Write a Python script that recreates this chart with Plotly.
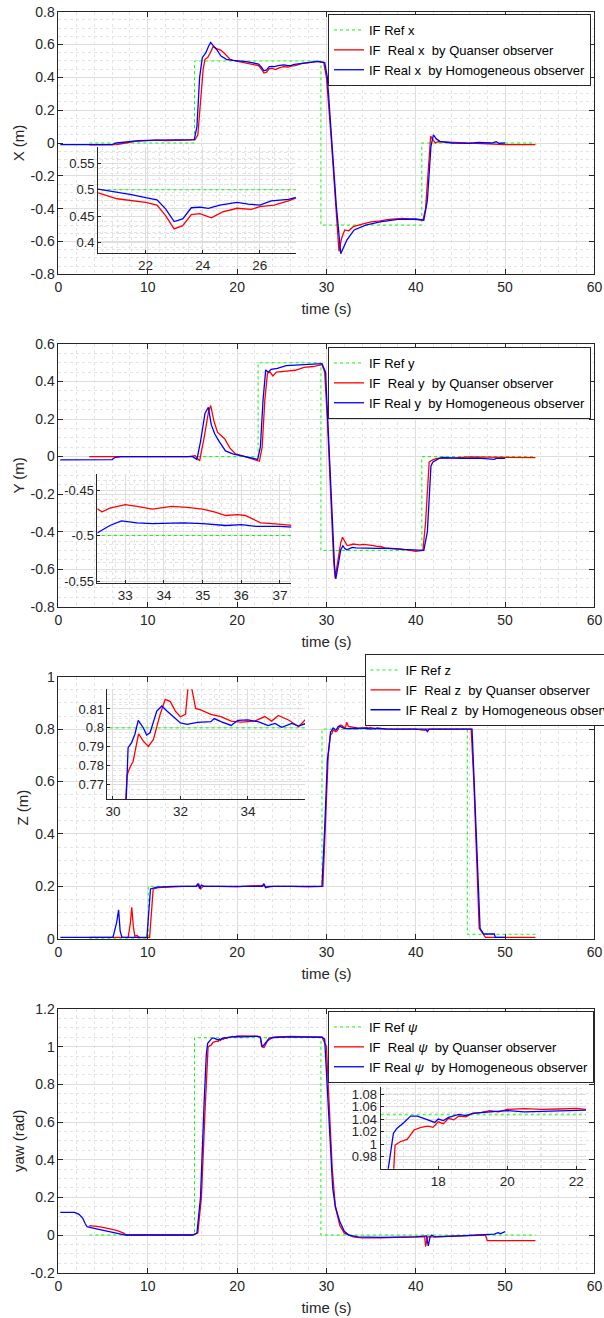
import plotly.graph_objects as go

# ------------------------------------------------------------------ data
# Panel 1 : X
t_ref_x = [3.45, 15.23, 29.38, 40.68, 53.4]
ref_x = [0, 0.5, -0.5, 0, 0]
t_xq = [3.45, 5.0, 6.5, 7.5, 8.5, 10, 11, 12, 13, 14.5, 15.3, 15.6, 15.9, 16.2, 16.4, 16.7, 17.0, 17.3,
        17.7, 18.2, 18.6, 19.2, 19.8, 20.34, 21, 21.5, 22, 22.4, 22.7, 23, 23.3, 23.6, 23.9, 24.3, 24.7,
        25.2, 25.7, 26, 26.5, 27, 27.3, 28, 29, 29.7, 30.0, 30.5, 31.0, 31.4, 31.7, 32.05, 32.5, 33.0,
        34, 35, 36, 37, 38.5, 40, 40.8, 41.1, 41.4, 41.67, 41.9, 42.2, 42.5, 43.5, 45, 46.5, 48, 50, 53.4]
x_q = [-0.012, -0.012, -0.01, 0.0, 0.01, 0.015, 0.018, 0.015, 0.018, 0.018, 0.02, 0.05, 0.25, 0.45, 0.51,
       0.52, 0.55, 0.587, 0.575, 0.565, 0.545, 0.51, 0.5, 0.494, 0.483, 0.479, 0.476, 0.471, 0.451, 0.426,
       0.432, 0.453, 0.455, 0.447, 0.458, 0.465, 0.463, 0.468, 0.471, 0.479, 0.485, 0.49, 0.497, 0.49,
       0.4, 0.05, -0.36, -0.66, -0.58, -0.53, -0.535, -0.51, -0.495, -0.48, -0.475, -0.465, -0.46,
       -0.465, -0.47, -0.4, -0.15, 0.043, 0.02, 0.0, 0.008, 0.005, 0.0, -0.005, -0.005, -0.01, -0.01]
t_xh = [0.2, 3, 6.0, 6.5, 7.3, 7.8, 9, 11, 13, 15.2, 15.5, 15.8, 16.1, 16.5, 16.8, 17.04, 17.3, 17.7,
        18.2, 18.8, 19.5, 20.34, 21, 21.5, 22, 22.4, 22.7, 23, 23.3, 23.6, 23.9, 24.2, 24.6, 25.2, 25.6,
        26, 26.4, 27, 27.3, 28, 29, 29.8, 30.1, 30.6, 31.1, 31.6, 31.9, 32.3, 33.1, 34.4, 36, 38, 40,
        40.9, 41.3, 41.7, 41.98, 42.3, 42.7, 44, 46, 47, 48.5, 49, 49.3, 50.0]
x_h = [-0.01, -0.01, -0.01, 0.0, 0.005, 0.012, 0.015, 0.018, 0.02, 0.02, 0.1, 0.4, 0.52, 0.55, 0.59,
       0.613, 0.595, 0.57, 0.53, 0.51, 0.503, 0.501, 0.496, 0.491, 0.485, 0.481, 0.464, 0.44, 0.445,
       0.466, 0.467, 0.465, 0.471, 0.476, 0.473, 0.471, 0.479, 0.482, 0.486, 0.49, 0.497, 0.49, 0.4,
       0.03, -0.38, -0.675, -0.64, -0.59, -0.53, -0.5, -0.48, -0.465, -0.463, -0.47, -0.35, -0.02,
       0.049, 0.025, 0.01, 0.0, -0.002, 0.003, 0.0, 0.008, -0.002, 0.0]

# Panel 2 : Y
t_ref_y = [3.45, 22.35, 29.38, 40.68, 53.4]
ref_y = [0, 0.5, -0.5, 0, 0]
t_yq = [3.45, 8, 10, 12, 14.5, 15.3, 15.8, 16.3, 16.8, 17.04, 17.4, 17.8, 18.1, 18.6, 19.2, 19.8, 20.5,
        21.5, 22.5, 22.8, 23.1, 23.4, 23.7, 24.0, 24.4, 25.5, 26.5, 27.5, 28.5, 29.5, 29.8, 30.1, 30.5,
        30.8, 30.97, 31.3, 31.6, 31.8, 32.1, 32.28, 32.4, 32.6, 33, 33.3, 33.7, 34.2, 34.6, 35, 35.3,
        35.6, 35.9, 36.1, 36.5, 36.8, 37.29, 38.5, 40, 40.8, 41.1, 41.5, 41.8, 42.3, 44, 46, 48, 53.4]
y_q = [0.0, 0.0, 0.003, 0.0, 0.0, 0.005, -0.023, 0.1, 0.24, 0.272, 0.19, 0.13, 0.115, 0.095, 0.045,
       0.015, 0.005, -0.01, -0.025, 0.05, 0.3, 0.445, 0.45, 0.43, 0.45, 0.455, 0.46, 0.475, 0.48, 0.49,
       0.45, 0.2, -0.25, -0.55, -0.648, -0.56, -0.46, -0.43, -0.46, -0.471, -0.474, -0.470, -0.466,
       -0.468, -0.471, -0.468, -0.469, -0.471, -0.474, -0.478, -0.477, -0.478, -0.486, -0.487, -0.488,
       -0.493, -0.505, -0.5, -0.35, -0.03, -0.02, -0.01, -0.008, -0.002, -0.003, -0.005]
t_yh = [0.2, 3, 6.0, 6.3, 7, 11, 15, 15.5, 15.9, 16.4, 16.78, 17.1, 17.5, 18.0, 18.7, 19.5, 20.5, 21.5,
        22.3, 22.6, 22.9, 23.2, 23.5, 23.8, 24.5, 25.5, 27, 29.5, 29.9, 30.2, 30.6, 30.9, 31.05, 31.3,
        31.6, 31.84, 32.05, 32.28, 32.6, 32.9, 33.3, 33.7, 34.5, 35, 35.6, 36, 36.4, 37, 37.29, 38.5, 40,
        40.9, 41.3, 41.7, 41.9, 42.2, 42.6, 43, 45, 47, 48.8, 49, 50]
y_h = [-0.018, -0.018, -0.016, -0.005, 0.0, 0.0, 0.0, -0.015, 0.08, 0.23, 0.263, 0.17, 0.12, 0.08, 0.03,
       0.015, 0.005, -0.008, -0.015, 0.05, 0.3, 0.462, 0.45, 0.465, 0.47, 0.485, 0.49, 0.495, 0.45, 0.15,
       -0.3, -0.58, -0.652, -0.58, -0.497, -0.475, -0.49, -0.497, -0.489, -0.484, -0.486, -0.487, -0.486,
       -0.487, -0.489, -0.488, -0.49, -0.49, -0.491, -0.495, -0.5, -0.5, -0.4, -0.05, -0.03, -0.02,
       -0.01, -0.005, -0.01, -0.008, -0.015, -0.01, -0.01]

# Panel 3 : Z
t_ref_z = [3.45, 10.05, 29.5, 45.77, 53.4]
ref_z = [0, 0.2, 0.8, 0.017, 0.017]
t_zq = [3.45, 7.8, 8.05, 8.2, 8.4, 8.55, 8.8, 9.1, 10.2, 10.4, 10.6, 11.2, 12.5, 14, 15.5, 15.7, 15.9,
        16.2, 18, 20, 21, 23, 23.2, 24, 26, 28, 29.6, 29.9, 30.2, 30.42, 30.5, 30.6, 30.76, 30.9, 31.05,
        31.2, 31.4, 31.55, 31.7, 31.85, 32.0, 32.15, 32.25, 32.35, 32.45, 32.6, 32.9, 33.2, 33.5, 33.8,
        34.2, 34.5, 34.7, 34.9, 35.2, 35.5, 35.69, 36.5, 38, 40, 41.0, 41.2, 43, 46.2, 46.5, 46.8, 47.1,
        47.5, 47.8, 53.4]
z_q = [0.005, 0.005, 0.06, 0.12, 0.04, 0.01, 0.012, 0.004, 0.004, 0.1, 0.19, 0.195, 0.198, 0.2, 0.2,
       0.21, 0.19, 0.2, 0.2, 0.198, 0.201, 0.203, 0.195, 0.2, 0.2, 0.198, 0.2, 0.45, 0.7, 0.775, 0.7789,
       0.7824, 0.7969, 0.793, 0.7902, 0.7939, 0.8072, 0.8151, 0.8139, 0.8089, 0.8059, 0.8072, 0.826,
       0.8196, 0.8103, 0.8095, 0.8072, 0.806, 0.8036, 0.8031, 0.8036, 0.806, 0.8036, 0.8066, 0.8042,
       0.8006, 0.8042, 0.801, 0.8, 0.8, 0.795, 0.8, 0.8, 0.8, 0.6, 0.3, 0.04, 0.02, 0.005, 0.005]
t_zh = [0.2, 6.1, 6.5, 6.73, 6.9, 7.1, 9.9, 10.1, 10.3, 11, 13, 15.4, 15.6, 15.8, 16.0, 16.3, 19, 22.8,
        23.0, 23.2, 23.5, 26, 29.5, 29.8, 30.1, 30.4, 30.45, 30.55, 30.65, 30.75, 30.9, 31.0, 31.1, 31.3,
        31.45, 31.6, 31.8, 32.0, 32.2, 32.5, 32.9, 33.0, 33.2, 33.5, 33.7, 34.0, 34.3, 34.6, 34.8, 35.0,
        35.3, 35.5, 35.69, 37, 41.1, 41.3, 41.5, 46.3, 46.7, 47.0, 47.2, 47.6, 48.8, 48.9, 50]
z_h = [0.005, 0.005, 0.06, 0.11, 0.03, 0.005, 0.005, 0.12, 0.19, 0.197, 0.2, 0.2, 0.21, 0.192, 0.205,
       0.2, 0.2, 0.2, 0.21, 0.195, 0.2, 0.2, 0.2, 0.42, 0.68, 0.765, 0.7895, 0.7921, 0.7965, 0.804,
       0.8001, 0.7962, 0.7974, 0.8089, 0.8116, 0.8089, 0.8057, 0.8026, 0.8019, 0.8029, 0.8033, 0.8049,
       0.8033, 0.8013, 0.804, 0.8042, 0.8033, 0.8012, 0.8024, 0.8003, 0.8024, 0.801, 0.8022, 0.8, 0.8,
       0.79, 0.8, 0.8, 0.45, 0.15, 0.04, 0.018, 0.018, 0.005, 0.005]

# Panel 4 : yaw
t_ref_w = [3.45, 15.23, 29.38, 53.4]
ref_w = [0, 1.0472, 0, 0]
t_wq = [3.45, 4.5, 5.5, 6.5, 7.3, 7.6, 12, 15, 15.6, 16.0, 16.4, 16.7, 16.75, 16.9, 17.1, 17.3, 17.5,
        17.7, 17.85, 18.0, 18.15, 18.3, 18.45, 18.6, 18.8, 19, 19.25, 19.5, 19.75, 20, 20.5, 21, 21.5,
        22, 22.28, 22.6, 22.75, 23.0, 23.4, 24, 26, 29.5, 30.0, 30.3, 30.6, 30.65, 31.0, 31.5, 32.0, 33,
        34, 36, 40, 41.0, 41.1, 41.3, 42, 45, 47.8, 48.0, 53.4]
w_q = [0.05, 0.045, 0.035, 0.025, 0.01, 0.0, 0.0, 0.0, 0.01, 0.2, 0.65, 0.95, 0.9987, 1.004, 1.0078,
       1.0228, 1.027, 1.029, 1.027, 1.036, 1.033, 1.0415, 1.039, 1.0452, 1.044, 1.0495, 1.051, 1.054,
       1.052, 1.0559, 1.057, 1.056, 1.0565, 1.0575, 1.056, 1.05, 1.0, 0.995, 1.03, 1.05, 1.055, 1.05,
       1.0, 0.7, 0.38, 0.35, 0.15, 0.05, 0.01, -0.01, -0.015, -0.015, -0.01, -0.01, -0.062, -0.01,
       -0.01, -0.005, 0.0, -0.03, -0.03]
t_wh = [0.2, 1.8, 2.3, 2.7, 3.0, 3.2, 4.0, 5.0, 6.0, 7.0, 7.5, 12, 15.0, 15.5, 15.9, 16.3, 16.55, 16.7,
        16.8, 17.0, 17.2, 17.4, 17.6, 17.8, 17.9, 18.0, 18.15, 18.3, 18.45, 18.6, 18.8, 19, 19.5, 20,
        20.5, 21, 21.5, 22, 22.28, 22.6, 22.8, 23.0, 23.3, 23.6, 24.5, 26, 29.5, 29.8, 30.3, 30.7, 31.0,
        31.5, 32.0, 32.5, 33.5, 36, 40, 41.2, 41.4, 41.6, 41.8, 42.1, 45, 48, 48.8, 49.2, 49.5, 50]
w_h = [0.12, 0.12, 0.11, 0.09, 0.06, 0.044, 0.035, 0.025, 0.012, 0.004, 0.0, 0.0, 0.0, 0.01, 0.2, 0.7,
       0.96, 1.0174, 1.0254, 1.0345, 1.0452, 1.0452, 1.041, 1.0378, 1.035, 1.0404, 1.038, 1.043, 1.045,
       1.0479, 1.046, 1.0495, 1.052, 1.054, 1.052, 1.053, 1.053, 1.054, 1.0548, 1.05, 1.0, 1.009, 1.03,
       1.045, 1.05, 1.052, 1.05, 1.04, 0.6, 0.25, 0.15, 0.07, 0.02, 0.0, -0.01, -0.012, -0.01, -0.005,
       -0.057, -0.01, 0.0, -0.01, -0.005, 0.0, 0.005, 0.012, 0.008, 0.018]

# tick labels
xt_main = [0, 10, 20, 30, 40, 50, 60]
xt_main_txt = ["0", "10", "20", "30", "40", "50", "60"]
yt_1 = [-0.8, -0.6, -0.4, -0.2, 0, 0.2, 0.4, 0.6, 0.8]
yt_1_txt = ["-0.8", "-0.6", "-0.4", "-0.2", "0", "0.2", "0.4", "0.6", "0.8"]
yt_2 = [-0.8, -0.6, -0.4, -0.2, 0, 0.2, 0.4, 0.6]
yt_2_txt = ["-0.8", "-0.6", "-0.4", "-0.2", "0", "0.2", "0.4", "0.6"]
yt_3 = [0, 0.2, 0.4, 0.6, 0.8, 1]
yt_3_txt = ["0", "0.2", "0.4", "0.6", "0.8", "1"]
yt_4 = [-0.2, 0, 0.2, 0.4, 0.6, 0.8, 1, 1.2]
yt_4_txt = ["-0.2", "0", "0.2", "0.4", "0.6", "0.8", "1", "1.2"]
xt_in1, xt_in1_txt = [22, 24, 26], ["22", "24", "26"]
yt_in1, yt_in1_txt = [0.4, 0.45, 0.5, 0.55], ["0.4", "0.45", "0.5", "0.55"]
xt_in2, xt_in2_txt = [33, 34, 35, 36, 37], ["33", "34", "35", "36", "37"]
yt_in2, yt_in2_txt = [-0.55, -0.5, -0.45], ["-0.55", "-0.5", "-0.45"]
xt_in3, xt_in3_txt = [30, 32, 34], ["30", "32", "34"]
yt_in3, yt_in3_txt = [0.77, 0.78, 0.79, 0.8, 0.81], ["0.77", "0.78", "0.79", "0.8", "0.81"]
xt_in4, xt_in4_txt = [18, 20, 22], ["18", "20", "22"]
yt_in4 = [0.98, 1.0, 1.02, 1.04, 1.06, 1.08]
yt_in4_txt = ["0.98", "1", "1.02", "1.04", "1.06", "1.08"]

W, H = 604, 1318
NB = "\u00a0"
panels = [
    dict(ref=(t_ref_x, ref_x), q=(t_xq, x_q), h=(t_xh, x_h), var="x", ylab="X (m)",
         yr=[-0.8, 0.8], yt=(yt_1, yt_1_txt), ymin=0.05,
         dom=[0.79188, 0.99112],
         ins=dict(xd=[0.16258, 0.48974], yd=[0.80827, 0.88869], xr=[20.34, 27.26], yr=[0.381, 0.5814],
                  xt=(xt_in1, xt_in1_txt), yt=(yt_in1, yt_in1_txt), xm=0.5, ym=0.01),
         leg=dict(x=328 / W, y=1 - 14 / H, ya="top")),
    dict(ref=(t_ref_y, ref_y), q=(t_yq, y_q), h=(t_yh, y_h), var="y", ylab="Y (m)",
         yr=[-0.8, 0.6], yt=(yt_2, yt_2_txt), ymin=0.05,
         dom=[0.53968, 0.7390],
         ins=dict(xd=[0.16142, 0.48212], yd=[0.55744, 0.64036], xr=[32.28, 37.29], yr=[-0.5525, -0.4324],
                  xt=(xt_in2, xt_in2_txt), yt=(yt_in2, yt_in2_txt), xm=0.25, ym=0.01),
         leg=dict(x=328 / W, y=1 - 347 / H, ya="top")),
    dict(ref=(t_ref_z, ref_z), q=(t_zq, z_q), h=(t_zh, z_h), var="z", ylab="Z (m)",
         yr=[0, 1], yt=(yt_3, yt_3_txt), ymin=0.05,
         dom=[0.28778, 0.48657],
         ins=dict(xd=[0.17798, 0.50497], yd=[0.39378, 0.4770], xr=[29.84, 35.69], yr=[0.7624, 0.8204],
                  xt=(xt_in3, xt_in3_txt), yt=(yt_in3, yt_in3_txt), xm=0.5, ym=0.0025),
         leg=dict(x=364.5 / W, y=1 - 726 / H, ya="bottom")),
    dict(ref=(t_ref_w, ref_w), q=(t_wq, w_q), h=(t_wh, w_h), var="<i>ψ</i>", ylab="yaw (rad)",
         yr=[-0.2, 1.2], yt=(yt_4, yt_4_txt), ymin=0.05,
         dom=[0.03437, 0.23445],
         ins=dict(xd=[0.63013, 0.97003], yd=[0.11328, 0.17549], xr=[16.33, 22.28], yr=[0.9608, 1.0922],
                  xt=(xt_in4, xt_in4_txt), yt=(yt_in4, yt_in4_txt), xm=0.5, ym=0.01),
         leg=dict(x=328 / W, y=1 - 1011 / H, ya="top")),
]

AX = "#262626"
GRID = "#dedede"
MINOR = "#e4e4e4"
FONT = "Liberation Sans, Arial, sans-serif"
GREEN, RED, BLUE = "#00ff00", "#ff0000", "#0000ff"

fig = go.Figure()
layout = dict(
    width=W, height=H, margin=dict(l=0, r=0, t=0, b=0, autoexpand=False),
    paper_bgcolor="white", plot_bgcolor="rgba(0,0,0,0)",
    font=dict(family=FONT, size=14, color=AX),
)

for i, p in enumerate(panels):
    k = i + 1
    kin = i + 5
    xa, ya = f"x{k}" if k > 1 else "x", f"y{k}" if k > 1 else "y"
    xi, yi = f"x{kin}", f"y{kin}"
    lg = "legend" if k == 1 else f"legend{k}"
    v = p["var"]
    names = [f"IF Ref {v}", f"IF{NB}{NB}Real {v}{NB}{NB}by Quanser observer",
             f"IF Real {v}{NB}{NB}by Homogeneous observer"]
    series = [(p["ref"], GREEN, "dot", 1.0, "hv"), (p["q"], RED, "solid", 1.3, "linear"),
              (p["h"], BLUE, "solid", 1.3, "linear")]
    for idx, ((tt, vv), col, dash, w, shp) in enumerate(series):
        fig.add_trace(go.Scatter(x=tt, y=vv, mode="lines", xaxis=xa, yaxis=ya, legend=lg,
                                 name=names[idx],
                                 line=dict(color=col, dash=dash, width=w, shape=shp)))
        fig.add_trace(go.Scatter(x=tt, y=vv, mode="lines", xaxis=xi, yaxis=yi, showlegend=False,
                                 line=dict(color=col, dash=dash, width=w, shape=shp)))

    xk = "xaxis" if k == 1 else f"xaxis{k}"
    yk = "yaxis" if k == 1 else f"yaxis{k}"
    layout[xk] = dict(domain=[0.09685, 0.98411], anchor=ya, range=[0, 60],
                      tickmode="array", tickvals=xt_main, ticktext=xt_main_txt,
                      showline=True, linecolor=AX, linewidth=1, mirror="ticks",
                      ticks="inside", ticklen=5, tickcolor=AX, zeroline=False,
                      showgrid=True, gridcolor=GRID, gridwidth=1,
                      minor=dict(tickmode="linear", tick0=0, dtick=2, showgrid=True,
                                 gridcolor=MINOR, griddash="dot", gridwidth=1),
                      tickfont=dict(size=14), automargin=False,
                      title=dict(text="time (s)", font=dict(size=15), standoff=9))
    layout[yk] = dict(domain=p["dom"], anchor=xa, range=p["yr"],
                      tickmode="array", tickvals=p["yt"][0], ticktext=p["yt"][1],
                      showline=True, linecolor=AX, linewidth=1, mirror="ticks",
                      ticks="inside", ticklen=5, tickcolor=AX, zeroline=False,
                      showgrid=True, gridcolor=GRID, gridwidth=1,
                      minor=dict(tickmode="linear", tick0=0, dtick=p["ymin"], showgrid=True,
                                 gridcolor=MINOR, griddash="dot", gridwidth=1),
                      tickfont=dict(size=14), automargin=False,
                      title=dict(text=p["ylab"], font=dict(size=15), standoff=2))
    ins = p["ins"]
    layout[f"xaxis{kin}"] = dict(domain=ins["xd"], anchor=yi, range=ins["xr"],
                                 tickmode="array", tickvals=ins["xt"][0], ticktext=ins["xt"][1],
                                 showline=True, linecolor=AX, linewidth=1, mirror=False,
                                 ticks="inside", ticklen=3, tickcolor=AX, zeroline=False,
                                 showgrid=True, gridcolor=GRID,
                                 minor=dict(tickmode="linear", tick0=0, dtick=ins["xm"], showgrid=True,
                                            gridcolor=MINOR, griddash="dot"),
                                 tickfont=dict(size=13.5), automargin=False)
    layout[f"yaxis{kin}"] = dict(domain=ins["yd"], anchor=xi, range=ins["yr"],
                                 tickmode="array", tickvals=ins["yt"][0], ticktext=ins["yt"][1],
                                 showline=True, linecolor=AX, linewidth=1, mirror=False,
                                 ticks="inside", ticklen=3, tickcolor=AX, zeroline=False,
                                 showgrid=True, gridcolor=GRID,
                                 minor=dict(tickmode="linear", tick0=0, dtick=ins["ym"], showgrid=True,
                                            gridcolor=MINOR, griddash="dot"),
                                 tickfont=dict(size=13), automargin=False)
    layout[lg] = dict(x=p["leg"]["x"], y=p["leg"]["y"], xanchor="left", yanchor=p["leg"]["ya"],
                      bgcolor="white", bordercolor=AX, borderwidth=1,
                      font=dict(size=13, color="black", family=FONT),
                      itemwidth=30, tracegroupgap=0)

fig.update_layout(**layout)
fig.write_html("out.html", config={"displayModeBar": False},
               post_script="document.body.style.margin='0px';document.body.style.overflow='hidden';")
